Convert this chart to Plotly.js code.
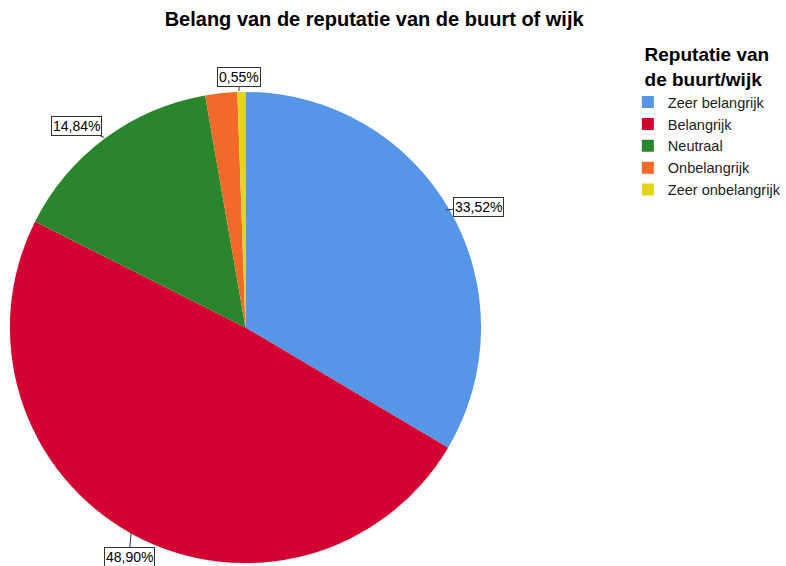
<!DOCTYPE html>
<html><head><meta charset="utf-8">
<script src="https://cdn.plot.ly/plotly-3.0.1.min.js"></script>
<style>html,body{margin:0;padding:0;background:#fff}#chart{width:786px;height:566px}</style>
</head><body><div id="chart"></div>
<script>
const categories = ["Zeer belangrijk","Belangrijk","Neutraal","Onbelangrijk","Zeer onbelangrijk"];
const values = [33.52, 48.90, 14.84, 2.19, 0.55];
const labelTexts = ["33,52%","48,90%","14,84%","","0,55%"];
const colors = ["#5596E6","#D50032","#2A862A","#F26A2A","#E3D617"];
// label offsets (pixels) from the slice edge point
const labelOffsets = [[33,-3],[-2,24],[-28,-11],[0,0],[0,-14]];

const W = 786, H = 566;
// visible pie geometry (pixels)
const cx = 245.5, cy = 326.5, R = 235.5;
// domain box (compensates plotly's inner padding)
const dcx = 248, dcy = 327.5, dR = 238;
const domX = [(dcx-dR)/W, (dcx+dR)/W];
const domY = [Math.max(0,(H-dcy-dR)/H), Math.min(1,(H-dcy+dR)/H)];

const total = values.reduce((a,b)=>a+b,0);
const annotations = [];
let cum = 0;
values.forEach((v,i)=>{
  const mid = (cum + v/2)/total*2*Math.PI;
  cum += v;
  if(!labelTexts[i]) return;
  const px = cx + R*Math.sin(mid), py = cy - R*Math.cos(mid);
  annotations.push({
    xref:'paper', yref:'paper', x: px/W, y: 1 - py/H,
    text: labelTexts[i], showarrow: true, arrowhead: 0, arrowwidth: 1, arrowcolor:'#333',
    ax: labelOffsets[i][0], ay: labelOffsets[i][1],
    bordercolor:'#333', borderwidth:1, borderpad:1, bgcolor:'#fff',
    font:{family:'Liberation Sans, Arial, sans-serif', size:14, color:'#000'}
  });
});

const trace = {
  type:'pie', labels: categories, values: values, sort:false, direction:'clockwise', rotation:0,
  marker:{colors: colors, line:{width:0}}, textinfo:'none', hoverinfo:'label+percent',
  domain:{x: domX, y: domY}
};
const layout = {
  width:W, height:H, margin:{l:0,r:0,t:0,b:0}, paper_bgcolor:'#fff',
  font:{family:'Liberation Sans, Arial, sans-serif', color:'#000'},
  title:{text:'<b>Belang van de reputatie van de buurt of wijk</b>', x:0.476, xanchor:'center', y:0.966, yanchor:'middle', font:{size:20, color:'#000'}},
  showlegend:true,
  legend:{x:0.807, xanchor:'left', y:0.935, yanchor:'top', font:{size:14.5, color:'#222'}, tracegroupgap:0, itemwidth:30,
    title:{text:'<b>Reputatie van<br>de buurt/wijk</b>', side:'top center', font:{size:19, color:'#000'}}},
  annotations: annotations
};
Plotly.newPlot('chart',[trace],layout,{displayModeBar:false, staticPlot:true});
</script></body></html>
